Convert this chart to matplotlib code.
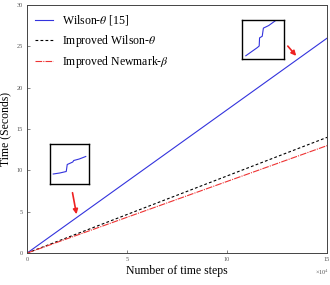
import matplotlib
matplotlib.use('Agg')
import matplotlib.pyplot as plt
import numpy as np

steps = [0, 30000, 60000, 90000, 120000, 150000]
wilson = [0, 5.2, 10.4, 15.6, 20.8, 26.0]
imp_wilson = [0, 2.8, 5.6, 8.4, 11.2, 14.0]
imp_newmark = [0, 2.6, 5.2, 7.8, 10.4, 13.0]

# zoomed pieces shown in the two insets
zoom1_x = [0, 2, 4, 4.3, 5, 6, 6.3, 8, 10]
zoom1_y = [0, 0.2, 0.5, 1.9, 2.1, 2.4, 2.7, 3.0, 3.5]
zoom2_x = [0, 3, 3.5, 3.6, 4.3, 4.6, 6, 8]
zoom2_y = [0, 2.5, 3, 5.5, 6, 8.5, 9.3, 11]

plt.rcParams['font.family'] = ['Liberation Serif', 'DejaVu Serif']
plt.rcParams['mathtext.fontset'] = 'stix'

fig = plt.figure(figsize=(3.3, 2.85), dpi=100)
ax = fig.add_axes([0.082, 0.112, 0.909, 0.87])

ax.plot(steps, wilson, color='#3333dd', lw=0.8, label=r'Wilson-$\theta$ [15]')
ax.plot(steps, imp_wilson, color='black', lw=0.8, ls=(0, (2.5, 2)), label=r'Improved Wilson-$\theta$')
ax.plot(steps, imp_newmark, color='#ee3333', lw=0.8, ls=(0, (6, 1, 1, 1)), label=r'Improved Newmark-$\beta$')

ax.set_xlim(0, 150000)
ax.set_ylim(0, 30)
ax.set_xticks([0, 50000, 100000, 150000])
ax.set_xticklabels(['0', '5', '10', '15'])
ax.set_yticks(range(0, 31, 5))
ax.tick_params(direction='in', labelsize=4.5, colors='#555555', length=2.5, width=0.5, pad=3)
for s in ax.spines.values():
    s.set_color('#444444')
    s.set_linewidth(0.7)
fig.text(0.997, 1 - 272 / 285, '×10$^4$', fontsize=4.5,
         color='#555555', ha='right', va='center')

ax.set_xlabel('Number of time steps', fontsize=8.5, labelpad=2)
ax.set_ylabel('Time (Seconds)', fontsize=8.5)
ax.yaxis.set_label_coords(-0.053, 0.5)

ax.legend(loc='upper left', fontsize=8.5, frameon=False, handlelength=1.5,
          borderaxespad=0.3, labelspacing=0.45)

# insets
in1 = fig.add_axes([50 / 330, 1 - 184 / 285, 39 / 330, 40 / 285])
in1.plot(zoom1_x, zoom1_y, color='#3333dd', lw=0.8)
in1.set_xlim(-1, 11)
in1.set_ylim(-2, 6)
in2 = fig.add_axes([242 / 330, 1 - 59 / 285, 42 / 330, 39 / 285])
in2.plot(zoom2_x, zoom2_y, color='#3333dd', lw=0.8)
in2.set_xlim(-1, 10)
in2.set_ylim(-1, 11)
for a in (in1, in2):
    a.set_xticks([])
    a.set_yticks([])
    for s in a.spines.values():
        s.set_linewidth(1.0)

# arrows
ax.annotate('', xy=(77 / 330, 1 - 217 / 285), xytext=(72 / 330, 1 - 190 / 285),
            xycoords='figure fraction', textcoords='figure fraction',
            arrowprops=dict(arrowstyle='-|>', color='#ee2222', lw=1.2, mutation_scale=7))
ax.annotate('', xy=(298 / 330, 1 - 58 / 285), xytext=(286 / 330, 1 - 44 / 285),
            xycoords='figure fraction', textcoords='figure fraction',
            arrowprops=dict(arrowstyle='-|>', color='#ee2222', lw=1.2, mutation_scale=7))

fig.savefig('out.png', dpi=100)
